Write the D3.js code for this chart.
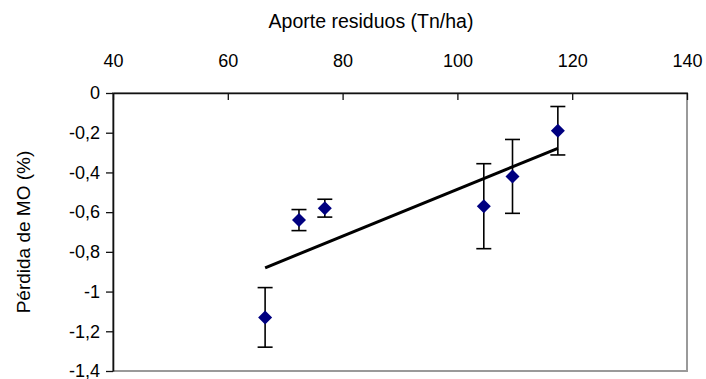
<!DOCTYPE html>
<html>
<head>
<meta charset="utf-8">
<script src="https://cdn.jsdelivr.net/npm/d3@7"></script>
<style>
  html, body { margin: 0; padding: 0; background: #fff; }
  svg { display: block; font-family: "Liberation Sans", Arial, sans-serif; }
</style>
</head>
<body>
<svg id="chart" width="706" height="379"></svg>
<script>
// Residue input (Tn/ha) against organic matter loss (%)
const aporte = [66.5, 72.4, 76.9, 104.6, 109.6, 117.5];
const perdida = [-1.13, -0.64, -0.58, -0.57, -0.42, -0.19];
const errorBar = [0.15, 0.053, 0.045, 0.214, 0.186, 0.122];
const xTicks = [40, 60, 80, 100, 120, 140];
const yTicks = [0, -0.2, -0.4, -0.6, -0.8, -1, -1.2, -1.4];
const xTitle = "Aporte residuos (Tn/ha)";
const yTitle = "Pérdida de MO (%)";

const svg = d3.select("#chart");
const plot = { left: 113, right: 687, top: 93, bottom: 371 };

const x = d3.scaleLinear().domain([40, 140]).range([plot.left, plot.right]);
const y = d3.scaleLinear().domain([-1.4, 0]).range([plot.bottom, plot.top]);

const es = d3.formatLocale({ decimal: ",", thousands: ".", grouping: [3], currency: ["", ""], minus: "-" });
const fmt = es.format(".1~f");

// plot-area frame (grey)
svg.append("rect")
  .attr("x", plot.left).attr("y", plot.top)
  .attr("width", plot.right - plot.left).attr("height", plot.bottom - plot.top)
  .attr("fill", "none").attr("stroke", "#9a9a9a").attr("stroke-width", 2);

// x axis sits on y = 0 with labels above, ticks pointing down
const xAxis = svg.append("g")
  .attr("transform", `translate(0,${y(0)})`)
  .call(d3.axisTop(x).tickValues(xTicks).tickSizeInner(-7).tickSizeOuter(0).tickPadding(26).tickFormat(d => d));
xAxis.select(".domain").attr("stroke", "#111").attr("stroke-width", 1.6);
xAxis.selectAll(".tick line").attr("stroke", "#111").attr("stroke-width", 1.3);
xAxis.selectAll("text").attr("font-size", 18).attr("fill", "#000");

// y axis
const yAxis = svg.append("g")
  .attr("transform", `translate(${plot.left},0)`)
  .call(d3.axisLeft(y).tickValues(yTicks).tickSizeInner(7).tickSizeOuter(0).tickPadding(6).tickFormat(fmt));
yAxis.select(".domain").attr("stroke", "#111").attr("stroke-width", 1.6);
yAxis.selectAll(".tick line").attr("stroke", "#111").attr("stroke-width", 1.3);
yAxis.selectAll("text").attr("font-size", 18).attr("fill", "#000");

// axis titles
svg.append("text")
  .attr("x", 371).attr("y", 28)
  .attr("text-anchor", "middle").attr("font-size", 19.5).attr("fill", "#000")
  .text(xTitle);
svg.append("text")
  .attr("transform", `translate(30,${(plot.top + plot.bottom) / 2}) rotate(-90)`)
  .attr("text-anchor", "middle").attr("font-size", 19).attr("fill", "#000")
  .text(yTitle);

// least-squares trend line over the data range
const mx = d3.mean(aporte), my = d3.mean(perdida);
const sxy = d3.sum(aporte, (v, i) => (v - mx) * (perdida[i] - my));
const sxx = d3.sum(aporte, v => (v - mx) * (v - mx));
const slope = sxy / sxx, intercept = my - slope * mx;
const [x0, x1] = d3.extent(aporte);
svg.append("path")
  .datum([x0, x1])
  .attr("d", d3.line().x(d => x(d)).y(d => y(intercept + slope * d)))
  .attr("stroke", "#000").attr("stroke-width", 3).attr("fill", "none");

const data = aporte.map((a, i) => ({ a, p: perdida[i], e: errorBar[i] }));

// error bars
const eb = svg.append("g").attr("stroke", "#000").attr("stroke-width", 1.6);
data.forEach(d => {
  eb.append("line").attr("x1", x(d.a)).attr("x2", x(d.a)).attr("y1", y(d.p + d.e)).attr("y2", y(d.p - d.e));
  [d.p + d.e, d.p - d.e].forEach(v => {
    eb.append("line").attr("x1", x(d.a) - 7.5).attr("x2", x(d.a) + 7.5).attr("y1", y(v)).attr("y2", y(v));
  });
});

// diamond markers
const r = 7;
svg.append("g").selectAll("path").data(data).join("path")
  .attr("d", d => `M${x(d.a)},${y(d.p) - r}L${x(d.a) + r},${y(d.p)}L${x(d.a)},${y(d.p) + r}L${x(d.a) - r},${y(d.p)}Z`)
  .attr("fill", "#000080");
</script>
</body>
</html>
